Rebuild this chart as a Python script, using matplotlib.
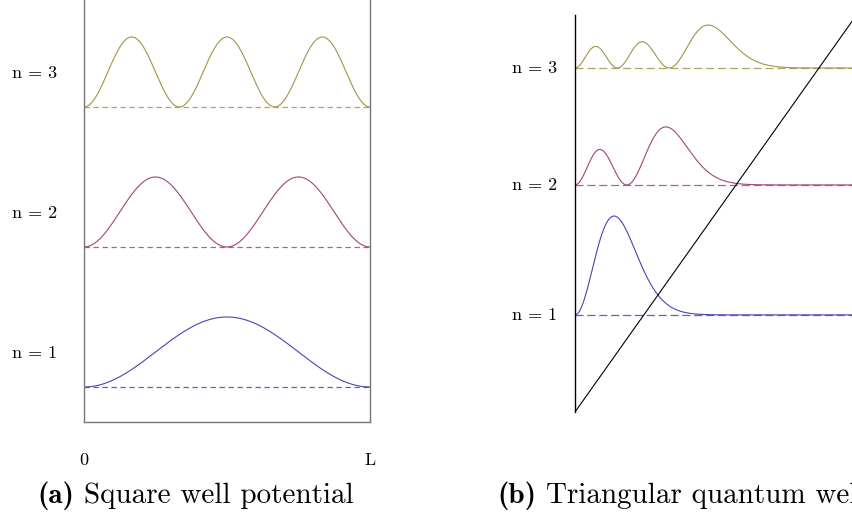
import numpy as np
import matplotlib
matplotlib.use("Agg")
import matplotlib.pyplot as plt

plt.rcParams['font.family'] = 'cmr10'
plt.rcParams['mathtext.fontset'] = 'cm'
plt.rcParams['axes.unicode_minus'] = False

W, H = 852, 517

labels = ['n = 1', 'n = 2', 'n = 3']
colors = ['#4646b4', '#a2447a', '#a39445']

# square well: level offsets and drawn height of |psi|^2
levels_a = [1, 2, 3]
height_a = [0.5, 0.5, 0.5]
modes_a = [1, 2, 3]
tick_pos = [0, 1]
tick_lab = ['0', 'L']

# triangular well: zeros of Ai, drawn level offsets, peak heights, field slope
airy_zeros = [2.33811, 4.08795, 5.52056]
levels_b = [3.28, 7.67, 11.62]
height_b = [3.34, 1.96, 1.45]
field = 1.41

captions = [('(a)', 'Square well potential', 37),
            ('(b)', 'Triangular quantum well', 497)]


def airy_ai(z):
    # power series for Ai, fine for the short range used here
    z = np.asarray(z, dtype=float)
    z3 = z**3
    tf = np.ones_like(z)
    tg = z.copy()
    f = tf.copy()
    g = tg.copy()
    for k in range(1, 90):
        tf = tf * z3 / ((3*k - 1) * (3*k))
        tg = tg * z3 / ((3*k) * (3*k + 1))
        f += tf
        g += tg
    return 0.355028053887817 * f - 0.258819403792807 * g


fig = plt.figure(figsize=(W/100, H/100), dpi=100)

# ---- (a) square well
ax1 = fig.add_axes([84/W, 95/H, 286/W, 422/H])
x = np.linspace(0, 1, 600)
for n, lev, h, c, lab in zip(modes_a, levels_a, height_a, colors, labels):
    dens = np.sin(n*np.pi*x)**2
    ax1.plot(x, lev + h*dens, color=c, lw=0.8)
    ax1.plot([0, 1], [lev, lev], color=c, lw=0.9, alpha=0.85, dashes=(4.3, 2.9))
    ax1.text(-0.094, lev + 0.243, lab, ha='right', va='center', fontsize=13)
ax1.set_xlim(0, 1)
ax1.set_ylim(0.75, 3.764)
for s in ['left', 'right', 'bottom']:
    ax1.spines[s].set_color('#777777')
    ax1.spines[s].set_linewidth(1.0)
ax1.spines['top'].set_visible(False)
ax1.set_yticks([])
ax1.set_xticks(tick_pos, tick_lab)
ax1.tick_params(axis='x', length=0, pad=22, labelsize=13)

# ---- (b) triangular well
ax2 = fig.add_axes([575/W, 105/H, 296/W, 397/H])
xb = np.linspace(0, 10, 800)
for a, lev, h, c, lab in zip(airy_zeros, levels_b, height_b, colors, labels):
    dens = airy_ai(xb - a)**2
    dens = dens / dens.max()
    ax2.plot(xb, lev + h*dens, color=c, lw=0.8)
    ax2.plot([0, 10], [lev, lev], color=c, lw=0.9, alpha=0.85, dashes=(6.5, 3))
    ax2.text(-0.61, lev, lab, ha='right', va='center', fontsize=13)
ax2.plot(xb, field*xb, color='black', lw=0.8)
ax2.set_xlim(0, 10)
ax2.set_ylim(0, 13.41)
for s in ['right', 'top', 'bottom']:
    ax2.spines[s].set_visible(False)
ax2.spines['left'].set_linewidth(1.0)
ax2.set_xticks([])
ax2.set_yticks([])

# captions: bold tag followed by roman text on the same baseline
renderer = fig.canvas.get_renderer()
for tag, txt, x0 in captions:
    t = fig.text(x0/W, 14/H, tag, family='cmb10', fontsize=21,
                 ha='left', va='baseline')
    bb = t.get_window_extent(renderer=renderer)
    fig.text((bb.x1 + 10)/W, 14/H, txt, fontsize=21, ha='left', va='baseline')

fig.savefig('out.png', dpi=100)
